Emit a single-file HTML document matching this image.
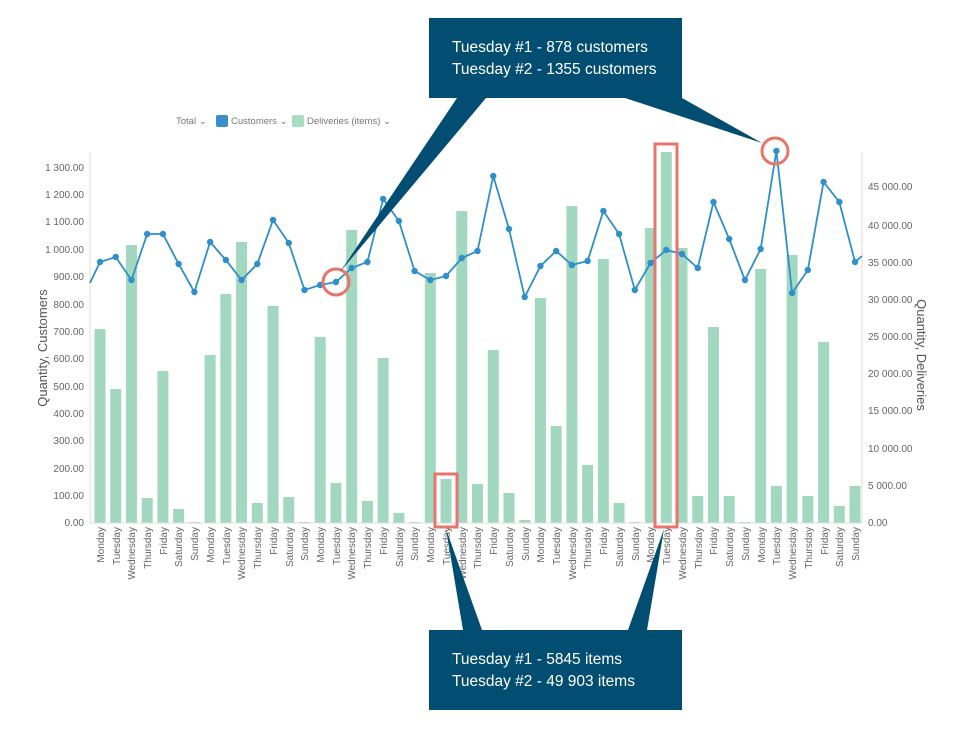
<!DOCTYPE html>
<html><head><meta charset="utf-8"><style>
body{margin:0;background:#fff;}
svg{display:block;font-family:"Liberation Sans",sans-serif;}
.t{font-size:10px;fill:#666;}
</style></head><body>
<svg id="s" width="964" height="730" viewBox="0 0 964 730" xmlns="http://www.w3.org/2000/svg">
<g id="bars"></g>
<line x1="90" y1="152" x2="90" y2="523" stroke="#ddd"/>
<line x1="862" y1="152" x2="862" y2="523" stroke="#ddd"/>
<line x1="90" y1="523" x2="862" y2="523" stroke="#ddd"/>
<g class="t" text-anchor="end">
<text x="84" y="171">1 300.00</text><text x="84" y="198">1 200.00</text><text x="84" y="225">1 100.00</text>
<text x="84" y="253">1 000.00</text><text x="84" y="280">900.00</text><text x="84" y="308">800.00</text>
<text x="84" y="335">700.00</text><text x="84" y="362">600.00</text><text x="84" y="390">500.00</text>
<text x="84" y="417">400.00</text><text x="84" y="444">300.00</text><text x="84" y="472">200.00</text>
<text x="84" y="499">100.00</text><text x="84" y="526">0.00</text>
</g>
<g class="t">
<text x="868" y="190">45 000.00</text><text x="868" y="229">40 000.00</text><text x="868" y="266">35 000.00</text>
<text x="868" y="303">30 000.00</text><text x="868" y="340">25 000.00</text><text x="868" y="377">20 000.00</text>
<text x="868" y="414">15 000.00</text><text x="868" y="452">10 000.00</text><text x="868" y="489">5 000.00</text>
<text x="868" y="526">0.00</text>
</g>
<text transform="translate(47,348) rotate(-90)" text-anchor="middle" font-size="13" fill="#555">Quantity, Customers</text>
<text transform="translate(917,355) rotate(90)" text-anchor="middle" font-size="13" fill="#555">Quantity, Deliveries</text>
<g font-size="9.5" fill="#777">
<text x="176" y="124">Total ⌄</text>
<rect x="216" y="115" width="12" height="12" rx="2" fill="#3a8fc9"/>
<text x="231" y="124">Customers ⌄</text>
<rect x="292" y="115" width="12" height="12" rx="2" fill="#a8dcc3"/>
<text x="307" y="124">Deliveries (items) ⌄</text>
</g>
<g id="labels" class="t" text-anchor="end">
<text transform="translate(104,527) rotate(-90)">Monday</text>
<text transform="translate(120,527) rotate(-90)">Tuesday</text>
<text transform="translate(135,527) rotate(-90)">Wednesday</text>
<text transform="translate(151,527) rotate(-90)">Thursday</text>
<text transform="translate(167,527) rotate(-90)">Friday</text>
<text transform="translate(182,527) rotate(-90)">Saturday</text>
<text transform="translate(198,527) rotate(-90)">Sunday</text>
<text transform="translate(214,527) rotate(-90)">Monday</text>
<text transform="translate(230,527) rotate(-90)">Tuesday</text>
<text transform="translate(245,527) rotate(-90)">Wednesday</text>
<text transform="translate(261,527) rotate(-90)">Thursday</text>
<text transform="translate(277,527) rotate(-90)">Friday</text>
<text transform="translate(293,527) rotate(-90)">Saturday</text>
<text transform="translate(308,527) rotate(-90)">Sunday</text>
<text transform="translate(324,527) rotate(-90)">Monday</text>
<text transform="translate(340,527) rotate(-90)">Tuesday</text>
<text transform="translate(355,527) rotate(-90)">Wednesday</text>
<text transform="translate(371,527) rotate(-90)">Thursday</text>
<text transform="translate(387,527) rotate(-90)">Friday</text>
<text transform="translate(403,527) rotate(-90)">Saturday</text>
<text transform="translate(418,527) rotate(-90)">Sunday</text>
<text transform="translate(434,527) rotate(-90)">Monday</text>
<text transform="translate(450,527) rotate(-90)">Tuesday</text>
<text transform="translate(466,527) rotate(-90)">Wednesday</text>
<text transform="translate(481,527) rotate(-90)">Thursday</text>
<text transform="translate(497,527) rotate(-90)">Friday</text>
<text transform="translate(513,527) rotate(-90)">Saturday</text>
<text transform="translate(529,527) rotate(-90)">Sunday</text>
<text transform="translate(544,527) rotate(-90)">Monday</text>
<text transform="translate(560,527) rotate(-90)">Tuesday</text>
<text transform="translate(576,527) rotate(-90)">Wednesday</text>
<text transform="translate(591,527) rotate(-90)">Thursday</text>
<text transform="translate(607,527) rotate(-90)">Friday</text>
<text transform="translate(623,527) rotate(-90)">Saturday</text>
<text transform="translate(639,527) rotate(-90)">Sunday</text>
<text transform="translate(654,527) rotate(-90)">Monday</text>
<text transform="translate(670,527) rotate(-90)">Tuesday</text>
<text transform="translate(686,527) rotate(-90)">Wednesday</text>
<text transform="translate(702,527) rotate(-90)">Thursday</text>
<text transform="translate(717,527) rotate(-90)">Friday</text>
<text transform="translate(733,527) rotate(-90)">Saturday</text>
<text transform="translate(749,527) rotate(-90)">Sunday</text>
<text transform="translate(765,527) rotate(-90)">Monday</text>
<text transform="translate(780,527) rotate(-90)">Tuesday</text>
<text transform="translate(796,527) rotate(-90)">Wednesday</text>
<text transform="translate(812,527) rotate(-90)">Thursday</text>
<text transform="translate(828,527) rotate(-90)">Friday</text>
<text transform="translate(843,527) rotate(-90)">Saturday</text>
<text transform="translate(859,527) rotate(-90)">Sunday</text>
</g>
<g id="line"></g>
<circle cx="336" cy="282" r="13" fill="none" stroke="#e8756b" stroke-width="3"/>
<circle cx="775" cy="151" r="13" fill="none" stroke="#e8756b" stroke-width="3"/>
<rect x="435" y="474" width="22" height="53" fill="none" stroke="#e8756b" stroke-width="3"/>
<rect x="655" y="144" width="22" height="383" fill="none" stroke="#e8756b" stroke-width="3"/>
<g fill="#024e72">
<polygon points="457,98 486,98 340,272"/>
<polygon points="625,98 682,98 762,143"/>
<polygon points="463,630 482,630 446,529"/>
<polygon points="628,630 647,630 664,529"/>
<rect x="429" y="18" width="253" height="80"/>
<rect x="429" y="630" width="253" height="80"/>
</g>
<g fill="#fff" font-size="15.5">
<text x="452" y="52">Tuesday #1 - 878 customers</text>
<text x="452" y="74">Tuesday #2 - 1355 customers</text>
<text x="452" y="664">Tuesday #1 - 5845 items</text>
<text x="452" y="686">Tuesday #2 - 49 903 items</text>
</g>
</svg>
<script>
var bt=[329,389,245,498,371,509,522,355,294,242,503,306,497,522,337,483,230,501,358,513,522,273,479,211,484,350,493,520,298,426,206,465,259,503,522,228,152,248,496,327,496,522,269,486,255,496,342,506,486];
var ly=[262,257,280,234,234,264,292,242,260,280,264,220,243,290,285,282,268,262,199,221,271,280,276,258,251,176,229,297,266,251,265,261,211,234,290,263,250,254,268,202,239,280,249,151,293,270,182,202,262];
var ns="http://www.w3.org/2000/svg",b=document.getElementById('bars'),l=document.getElementById('line');
var pts=["90,283"];
for(var i=0;i<49;i++){var x=100+15.73*i;
var r=document.createElementNS(ns,'rect');r.setAttribute('x',x-5.5);r.setAttribute('y',bt[i]);r.setAttribute('width',11);r.setAttribute('height',523-bt[i]);r.setAttribute('fill','#a2d8bf');b.appendChild(r);
pts.push(x+","+ly[i]);}
pts.push("862,256");
var p=document.createElementNS(ns,'polyline');p.setAttribute('points',pts.join(' '));p.setAttribute('fill','none');p.setAttribute('stroke','#2e8fca');p.setAttribute('stroke-width','1.8');l.appendChild(p);
for(var i=0;i<49;i++){var c=document.createElementNS(ns,'circle');c.setAttribute('cx',100+15.73*i);c.setAttribute('cy',ly[i]);c.setAttribute('r',3.2);c.setAttribute('fill','#2e8fca');l.appendChild(c);}
</script>
</body></html>
